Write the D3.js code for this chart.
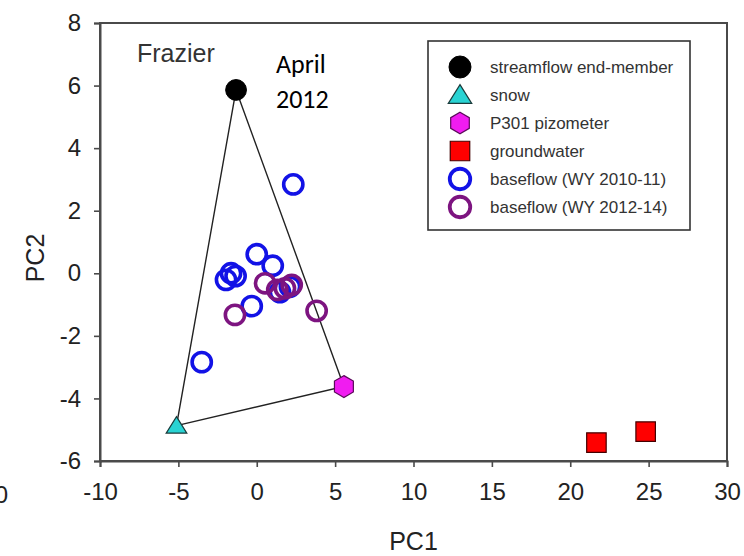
<!DOCTYPE html>
<html>
<head>
<meta charset="utf-8">
<script src="https://cdn.jsdelivr.net/npm/d3@7"></script>
<style>
  html, body { margin: 0; padding: 0; background: #fff; }
  svg { display: block; }
</style>
</head>
<body>
<svg id="chart" width="744" height="556"></svg>
<script>
// End-members and baseflow samples in PC1/PC2 space
const streamflow = [[-1.32, 5.86]];
const snow = [[-5.12, -4.87]];
const piezometer = [[5.56, -3.62]];
const groundwater = [[21.67, -5.41], [24.81, -5.06]];
const baseflow1011 = [
  [2.33, 2.84], [0.0, 0.61], [1.02, 0.24], [-1.64, 0.0], [-1.96, -0.21],
  [-1.35, -0.09], [-0.32, -1.05], [-3.51, -2.84], [2.12, -0.43], [1.48, -0.6]
];
const baseflow1214 = [
  [0.53, -0.32], [1.31, -0.53], [1.8, -0.48], [2.23, -0.37], [-1.39, -1.33], [3.82, -1.2]
];
const xTicks = [-10, -5, 0, 5, 10, 15, 20, 25, 30];
const yTicks = [-6, -4, -2, 0, 2, 4, 6, 8];
const legendLabels = [
  "streamflow end-member", "snow", "P301 pizometer", "groundwater",
  "baseflow (WY 2010-11)", "baseflow (WY 2012-14)"
];

const svg = d3.select("#chart");
const plotL = 100, plotR = 727, plotT = 23, plotB = 461;
const x = d3.scaleLinear().domain([-10, 30]).range([plotL, plotR]);
const y = d3.scaleLinear().domain([-6, 8]).range([plotB, plotT]);
const font = "'Liberation Sans', Arial, sans-serif";
const axisColor = "#4a4a4a";
const plain = d => String(d);   // hyphen-minus, as on the printed axes

// pointy-top hexagon symbol
const hexagon = {
  draw(ctx, size) {
    const r = Math.sqrt(size / (1.5 * Math.sqrt(3)));
    for (let i = 0; i < 6; i++) {
      const a = Math.PI / 3 * i - Math.PI / 2;
      const px = r * Math.cos(a), py = r * Math.sin(a);
      if (i === 0) ctx.moveTo(px, py); else ctx.lineTo(px, py);
    }
    ctx.closePath();
  }
};
// flattened triangle, wider than tall
const flatTriangle = {
  draw(ctx, size) {
    const w = Math.sqrt(size * 2 * 1.25), h = w / 1.25;
    ctx.moveTo(0, -h * 0.55);
    ctx.lineTo(w / 2, h * 0.45);
    ctx.lineTo(-w / 2, h * 0.45);
    ctx.closePath();
  }
};

// frame
svg.append("rect")
  .attr("x", plotL).attr("y", plotT)
  .attr("width", plotR - plotL).attr("height", plotB - plotT)
  .attr("fill", "none").attr("stroke", axisColor).attr("stroke-width", 2);

// axes
const xAxis = svg.append("g")
  .attr("transform", `translate(0,${plotB})`)
  .call(d3.axisBottom(x).tickValues(xTicks).tickSize(6).tickPadding(16).tickFormat(plain));
const yAxis = svg.append("g")
  .attr("transform", `translate(${plotL},0)`)
  .call(d3.axisLeft(y).tickValues(yTicks).tickSize(6).tickPadding(13).tickFormat(plain));
[xAxis, yAxis].forEach(g => {
  g.select(".domain").attr("stroke", axisColor).attr("stroke-width", 2);
  g.selectAll(".tick line").attr("stroke", axisColor).attr("stroke-width", 1.6);
  g.selectAll(".tick text").attr("fill", "#222").attr("font-family", font).attr("font-size", 24);
});
xAxis.selectAll(".tick text").attr("dy", "0.71em");

// axis titles
svg.append("text").attr("x", (plotL + plotR) / 2).attr("y", 550)
  .attr("text-anchor", "middle").attr("font-family", font).attr("font-size", 25)
  .attr("fill", "#222").text("PC1");
svg.append("text").attr("transform", "translate(44,258) rotate(-90)")
  .attr("text-anchor", "middle").attr("font-family", font).attr("font-size", 25)
  .attr("fill", "#222").text("PC2");

// neighbouring panel's tick label, clipped at the left edge
svg.append("text").attr("x", 8).attr("y", 503)
  .attr("text-anchor", "end").attr("font-family", font).attr("font-size", 24)
  .attr("fill", "#222").text("30");

// mixing triangle
const hull = [streamflow[0], snow[0], piezometer[0]];
svg.append("path")
  .attr("d", d3.line().x(d => x(d[0])).y(d => y(d[1]))(hull.concat([hull[0]])))
  .attr("fill", "none").attr("stroke", "#222").attr("stroke-width", 1.4);

const series = [
  { data: baseflow1011, sym: d3.symbolCircle, size: 290, fill: "none", stroke: "#1212e6", sw: 3.6 },
  { data: baseflow1214, sym: d3.symbolCircle, size: 290, fill: "none", stroke: "#7d1480", sw: 3.6 },
  { data: streamflow, sym: d3.symbolCircle, size: 340, fill: "#000", stroke: "#000", sw: 1 },
  { data: snow, sym: flatTriangle, size: 170, fill: "#29d3d3", stroke: "#1a3a3a", sw: 1.2 },
  { data: piezometer, sym: hexagon, size: 310, fill: "#f01cf0", stroke: "#5a0a5a", sw: 1.2 },
  { data: groundwater, sym: d3.symbolSquare, size: 380, fill: "#f00", stroke: "#400", sw: 1.2 }
];
series.forEach(s => {
  svg.append("g").selectAll("path").data(s.data).join("path")
    .attr("transform", d => `translate(${x(d[0])},${y(d[1])})`)
    .attr("d", d3.symbol().type(s.sym).size(s.size))
    .attr("fill", s.fill).attr("stroke", s.stroke).attr("stroke-width", s.sw);
});

// annotations
svg.append("text").attr("x", 137).attr("y", 62)
  .attr("font-family", font).attr("font-size", 25).attr("fill", "#333").text("Frazier");
const ann = svg.append("text").attr("font-family", "Carlito, 'Open Sans', sans-serif")
  .attr("font-size", 26).attr("fill", "#000");
ann.append("tspan").attr("x", 276).attr("y", 73).text("April");
ann.append("tspan").attr("x", 276).attr("y", 108).text("2012");

// legend
const lg = svg.append("g");
lg.append("rect").attr("x", 428).attr("y", 41).attr("width", 262).attr("height", 189)
  .attr("fill", "#fff").attr("stroke", "#333").attr("stroke-width", 1.6);
const legendSyms = [
  { sym: d3.symbolCircle, size: 380, fill: "#000", stroke: "#000", sw: 1 },
  { sym: flatTriangle, size: 220, fill: "#29d3d3", stroke: "#1a3a3a", sw: 1.2 },
  { sym: hexagon, size: 300, fill: "#f01cf0", stroke: "#5a0a5a", sw: 1.2 },
  { sym: d3.symbolSquare, size: 380, fill: "#f00", stroke: "#400", sw: 1.2 },
  { sym: d3.symbolCircle, size: 330, fill: "none", stroke: "#1212e6", sw: 3.8 },
  { sym: d3.symbolCircle, size: 330, fill: "none", stroke: "#7d1480", sw: 3.8 }
];
const rowY = d3.scaleLinear().domain([0, 5]).range([67, 207]);
legendLabels.forEach((label, i) => {
  const s = legendSyms[i];
  lg.append("path")
    .attr("transform", `translate(460,${rowY(i)})`)
    .attr("d", d3.symbol().type(s.sym).size(s.size))
    .attr("fill", s.fill).attr("stroke", s.stroke).attr("stroke-width", s.sw);
  lg.append("text").attr("x", 490).attr("y", rowY(i)).attr("dy", "0.35em")
    .attr("font-family", font).attr("font-size", 17).attr("fill", "#333").text(label);
});
</script>
</body>
</html>
